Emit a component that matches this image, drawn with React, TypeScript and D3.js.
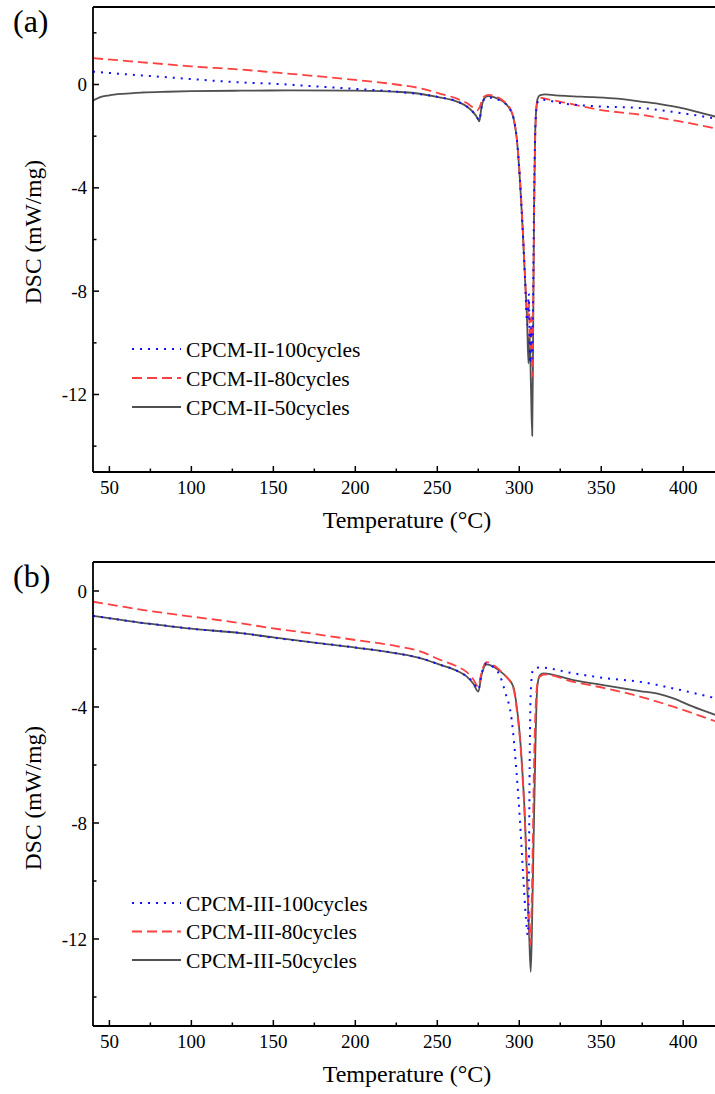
import React from 'react';
import * as d3 from 'd3';

type Pt = [number, number];

// ---------- shared axis data ----------
const X_DOMAIN: [number, number] = [40, 420];
const X_MAJOR = [50, 100, 150, 200, 250, 300, 350, 400];
const X_MINOR = [75, 125, 175, 225, 275, 325, 375];
const X_TITLE = 'Temperature (\u00B0C)';
const Y_TITLE = 'DSC (mW/mg)';

// ---------- panel (a) ----------
const A_Y_DOMAIN: [number, number] = [-15, 3];
const A_Y_MAJOR = [0, -4, -8, -12];
const A_Y_MINOR = [2, -2, -6, -10, -14];
const A_NAMES = ['CPCM-II-100cycles', 'CPCM-II-80cycles', 'CPCM-II-50cycles'];

const A_100: Pt[] = [[40,0.5],[55,0.42],[70,0.35],[85,0.28],[100,0.21],[130,0.08],[150,0.03],[175,-0.07],[200,-0.17],[225,-0.28],[240,-0.38],[252,-0.5],[262,-0.65],[268,-0.85],[272,-1.08],[274.5,-1.3],[275.6,-1.4],[276.8,-0.95],[278.5,-0.58],[281,-0.5],[285,-0.55],[290,-0.68],[294,-0.92],[296.5,-1.3],[298.5,-2.1],[300.4,-3.7],[302,-5.5],[303.5,-7.5],[304.9,-9.3],[305.8,-8.1],[306.6,-10.8],[307.3,-9.4],[308,-10.6],[308.6,-7.2],[309.2,-3.6],[309.8,-1.7],[310.6,-0.85],[311.8,-0.62],[314,-0.59],[325,-0.72],[349,-0.85],[374,-0.91],[398,-1.1],[420,-1.32]];
const A_80: Pt[] = [[40,1.02],[55,0.94],[70,0.86],[85,0.78],[100,0.7],[130,0.58],[150,0.47],[175,0.33],[200,0.18],[225,0.0],[240,-0.15],[252,-0.36],[262,-0.55],[268,-0.72],[272,-0.9],[274.5,-1.0],[276,-0.85],[278,-0.5],[281,-0.4],[285,-0.45],[290,-0.62],[294,-0.88],[296.5,-1.3],[298.5,-2.1],[300.4,-3.6],[302,-5.4],[303.5,-7.4],[304.9,-9.0],[305.8,-8.4],[306.6,-10.2],[307.3,-9.0],[308,-11.3],[308.6,-8.0],[309.2,-4.2],[309.8,-1.9],[310.6,-0.85],[311.6,-0.56],[313,-0.52],[318,-0.58],[329,-0.72],[349,-0.98],[374,-1.17],[398,-1.43],[420,-1.7]];
const A_50: Pt[] = [[40,-0.62],[44,-0.5],[50,-0.42],[58,-0.36],[70,-0.31],[85,-0.28],[100,-0.26],[130,-0.24],[160,-0.23],[200,-0.24],[230,-0.3],[250,-0.48],[262,-0.66],[268,-0.85],[272,-1.08],[274.5,-1.3],[275.6,-1.43],[276.8,-0.95],[278.5,-0.55],[281,-0.45],[285,-0.5],[290,-0.65],[294,-0.92],[296.5,-1.3],[298.5,-2.1],[300.4,-3.7],[302,-5.5],[303.5,-7.5],[304.8,-9.2],[305.6,-10.8],[306.3,-9.6],[307.1,-11.6],[307.9,-13.6],[308.5,-9.5],[309,-5.0],[309.6,-2.2],[310.3,-1.0],[311.2,-0.55],[312.5,-0.42],[316,-0.38],[322,-0.42],[330,-0.45],[345,-0.49],[360,-0.55],[374,-0.66],[385,-0.75],[394,-0.85],[405,-1.0],[412,-1.12],[420,-1.25]];

// ---------- panel (b) ----------
const B_Y_DOMAIN: [number, number] = [-15, 1];
const B_Y_MAJOR = [0, -4, -8, -12];
const B_Y_MINOR = [-2, -6, -10, -14];
const B_NAMES = ['CPCM-III-100cycles', 'CPCM-III-80cycles', 'CPCM-III-50cycles'];

const B_100: Pt[] = [[40,-0.86],[55,-0.98],[70,-1.1],[85,-1.2],[100,-1.3],[130,-1.45],[150,-1.61],[175,-1.78],[200,-1.95],[225,-2.15],[240,-2.32],[252,-2.55],[262,-2.75],[268,-2.95],[272,-3.15],[275,-3.4],[277,-2.85],[280,-2.5],[284,-2.62],[288,-2.9],[291.5,-3.5],[295.4,-4.45],[298.4,-6.3],[300.4,-7.9],[302.5,-9.9],[304.1,-11.3],[305.2,-11.86],[305.9,-9.5],[306.4,-5.6],[307,-3.5],[308.2,-2.75],[310,-2.66],[312.6,-2.64],[333,-2.84],[353,-3.01],[373.6,-3.13],[394,-3.36],[420,-3.7]];
const B_80: Pt[] = [[40,-0.37],[55,-0.51],[70,-0.65],[85,-0.77],[100,-0.88],[130,-1.11],[150,-1.29],[175,-1.48],[200,-1.69],[225,-1.9],[240,-2.09],[252,-2.38],[262,-2.6],[268,-2.8],[272,-3.05],[275,-3.3],[277,-2.8],[280,-2.45],[284,-2.55],[288,-2.72],[292,-2.95],[296.4,-3.35],[298.5,-4.1],[300.4,-5.1],[302,-6.4],[303.5,-8.0],[304.9,-10.0],[306,-11.5],[306.8,-12.2],[307.5,-11.0],[308.3,-8.5],[309,-6.0],[310,-4.0],[311,-3.2],[312.6,-2.95],[315,-2.88],[333,-3.13],[353,-3.36],[373.6,-3.64],[394,-3.99],[420,-4.5]];
const B_50: Pt[] = [[40,-0.86],[55,-0.98],[70,-1.1],[85,-1.2],[100,-1.3],[130,-1.45],[150,-1.6],[175,-1.78],[200,-1.95],[225,-2.15],[240,-2.32],[252,-2.55],[262,-2.75],[268,-2.95],[272,-3.2],[275,-3.47],[277,-2.9],[280,-2.53],[284,-2.6],[288,-2.75],[292,-2.95],[296.4,-3.3],[298.5,-4.0],[300.4,-5.0],[302,-6.3],[303.5,-7.9],[304.9,-10.2],[306,-11.8],[307,-13.13],[307.8,-11.5],[308.6,-9.0],[309.3,-7.0],[310,-5.0],[311,-3.3],[312.6,-2.9],[314.7,-2.84],[333,-3.07],[353,-3.26],[373.6,-3.45],[385,-3.55],[394,-3.7],[406,-3.99],[420,-4.28]];

// ---------- styles ----------
const FONT = "'Liberation Serif', 'Times New Roman', serif";
const STYLES = [
  { color: '#1010ff', dash: '2,6', width: 2 },
  { color: '#ff4040', dash: '10,5', width: 1.8 },
  { color: '#505050', dash: '', width: 1.8 },
];

const W = 715;
const H = 1094;
const LEFT = 93;
const RIGHT = 716;

interface PanelProps {
  id: string;
  label: string;
  top: number;
  bottom: number;
  yDomain: [number, number];
  yMajor: number[];
  yMinor: number[];
  series: Pt[][];
  names: string[];
  legendY: number[];
  yTitleY: number;
}

function Panel(p: PanelProps) {
  const x = d3.scaleLinear().domain(X_DOMAIN).range([LEFT, RIGHT]);
  const y = d3.scaleLinear().domain(p.yDomain).range([p.bottom, p.top]);
  const line = d3
    .line<Pt>()
    .x((d) => x(d[0]))
    .y((d) => y(d[1]))
    .curve(d3.curveMonotoneX);
  // draw order: gray, red, blue
  const order = [2, 1, 0];
  return (
    <g>
      <defs>
        <clipPath id={`clip-${p.id}`}>
          <rect x={LEFT} y={p.top} width={RIGHT - LEFT} height={p.bottom - p.top} />
        </clipPath>
      </defs>
      <g clipPath={`url(#clip-${p.id})`}>
        {order.map((i) => (
          <path
            key={i}
            d={line(p.series[i]) || ''}
            fill="none"
            stroke={STYLES[i].color}
            strokeWidth={STYLES[i].width}
            strokeDasharray={STYLES[i].dash || undefined}
            strokeLinejoin="round"
          />
        ))}
      </g>
      {/* frame */}
      <line x1={LEFT} x2={RIGHT} y1={p.top} y2={p.top} stroke="#000" strokeWidth={1.8} />
      <line x1={LEFT} x2={RIGHT} y1={p.bottom} y2={p.bottom} stroke="#000" strokeWidth={1.8} />
      <line x1={LEFT} x2={LEFT} y1={p.top} y2={p.bottom} stroke="#000" strokeWidth={1.8} />
      <line x1={RIGHT} x2={RIGHT} y1={p.top} y2={p.bottom} stroke="#000" strokeWidth={1.8} />
      {/* x ticks */}
      {X_MAJOR.map((t) => (
        <g key={'xm' + t}>
          <line x1={x(t)} x2={x(t)} y1={p.bottom} y2={p.bottom - 6} stroke="#000" strokeWidth={1.5} />
          <text x={x(t)} y={p.bottom + 22} textAnchor="middle" fontFamily={FONT} fontSize={19} fill="#000">
            {t}
          </text>
        </g>
      ))}
      {X_MINOR.map((t) => (
        <line key={'xn' + t} x1={x(t)} x2={x(t)} y1={p.bottom} y2={p.bottom - 3.5} stroke="#000" strokeWidth={1.5} />
      ))}
      {/* y ticks */}
      {p.yMajor.map((t) => (
        <g key={'ym' + t}>
          <line x1={LEFT} x2={LEFT + 6} y1={y(t)} y2={y(t)} stroke="#000" strokeWidth={1.5} />
          <text x={87} y={y(t) + 6.5} textAnchor="end" fontFamily={FONT} fontSize={19} fill="#000">
            {String(t)}
          </text>
        </g>
      ))}
      {p.yMinor.map((t) => (
        <line key={'yn' + t} x1={LEFT} x2={LEFT + 3.5} y1={y(t)} y2={y(t)} stroke="#000" strokeWidth={1.5} />
      ))}
      {/* titles */}
      <text x={407} y={p.bottom + 56} textAnchor="middle" fontFamily={FONT} fontSize={24} fill="#000">
        {X_TITLE}
      </text>
      <text
        transform={`translate(41,${p.yTitleY}) rotate(-90)`}
        textAnchor="middle"
        fontFamily={FONT}
        fontSize={23.5}
        fill="#000"
      >
        {Y_TITLE}
      </text>
      <text x={13} y={p.top + 25} fontFamily={FONT} fontSize={32} fill="#000">
        {p.label}
      </text>
      {/* legend */}
      {p.names.map((n, i) => (
        <g key={n}>
          <line
            x1={132}
            x2={181}
            y1={p.legendY[i]}
            y2={p.legendY[i]}
            stroke={STYLES[i].color}
            strokeWidth={STYLES[i].width}
            strokeDasharray={STYLES[i].dash || undefined}
          />
          <text x={186} y={p.legendY[i] + 7.5} fontFamily={FONT} fontSize={21.5} fill="#000">
            {n}
          </text>
        </g>
      ))}
    </g>
  );
}

export default function App() {
  return (
    <svg
      width={W}
      height={H}
      viewBox={`0 0 ${W} ${H}`}
      style={{ position: 'absolute', left: 0, top: 0, background: '#fff' }}
    >
      <rect x={0} y={0} width={W} height={H} fill="#fff" />
      <Panel
        id="a"
        label="(a)"
        top={7}
        bottom={472}
        yDomain={A_Y_DOMAIN}
        yMajor={A_Y_MAJOR}
        yMinor={A_Y_MINOR}
        series={[A_100, A_80, A_50]}
        names={A_NAMES}
        legendY={[349, 378, 407]}
        yTitleY={232}
      />
      <Panel
        id="b"
        label="(b)"
        top={562}
        bottom={1026}
        yDomain={B_Y_DOMAIN}
        yMajor={B_Y_MAJOR}
        yMinor={B_Y_MINOR}
        series={[B_100, B_80, B_50]}
        names={B_NAMES}
        legendY={[903, 931.5, 960]}
        yTitleY={798}
      />
    </svg>
  );
}
